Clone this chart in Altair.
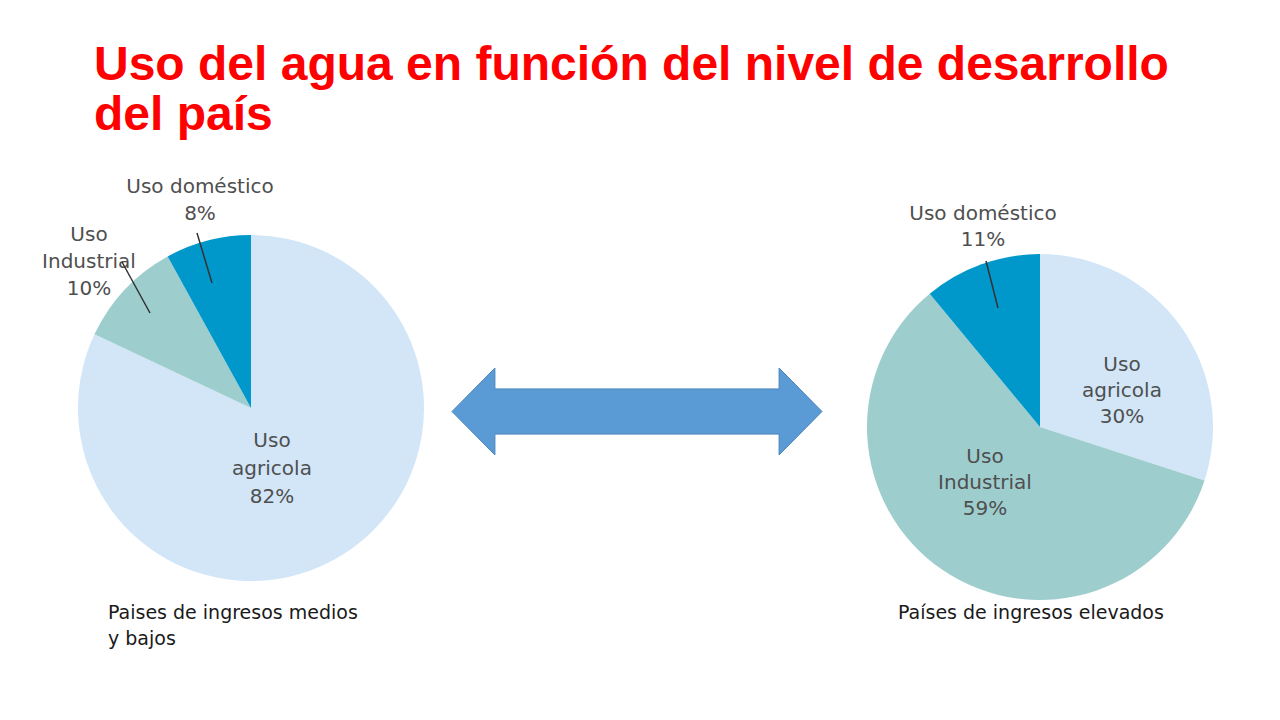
"""Uso del agua segun el nivel de desarrollo del pais: dos tartas y una flecha."""

import altair as alt
import pandas as pd

# ---------------------------------------------------------------------------
# Datos
# ---------------------------------------------------------------------------

TITULO = ["Uso del agua en función del nivel de desarrollo", "del país"]

CATEGORIAS = ["agricola", "Industrial", "doméstico"]
INGRESOS_BAJOS = [82, 10, 8]
INGRESOS_ALTOS = [30, 59, 11]

PIE_BAJOS = ["Paises de ingresos medios", "y bajos"]
PIE_ALTOS = ["Países de ingresos elevados"]

COLORES = ["#D2E6F8", "#9ECDCD", "#0097CB"]

# ---------------------------------------------------------------------------
# Estilo
# ---------------------------------------------------------------------------

FUENTE_TITULO = "Liberation Sans"
FUENTE = "DejaVu Sans"
GRIS = "#4f4f4f"
RADIO = 173

# flecha doble en un cuadrado unidad [-1, 1]
FLECHA = (
    "M -1 0 L -0.768 -0.235 L -0.768 -0.122 L 0.768 -0.122 L 0.768 -0.235 "
    "L 1 0 L 0.768 0.235 L 0.768 0.122 L -0.768 0.122 L -0.768 0.235 Z"
)


def etiqueta(nombre, pct):
    if nombre == "doméstico":
        return [f"Uso {nombre}", f"{pct}%"]
    return ["Uso", nombre, f"{pct}%"]


def texto(lineas, x, y, size=20, color=GRIS, align="center", lh=27,
          font=FUENTE, weight="normal"):
    df = pd.DataFrame({"texto": ["\n".join(lineas)]})
    return (
        alt.Chart(df)
        .mark_text(
            align=align, baseline="alphabetic", lineBreak="\n", lineHeight=lh,
            fontSize=size, font=font, fontWeight=weight, color=color,
        )
        .encode(x=alt.value(x), y=alt.value(y), text="texto:N")
    )


def tarta(valores, cx, cy):
    df = pd.DataFrame({"uso": CATEGORIAS, "pct": valores, "orden": range(len(valores))})
    return (
        alt.Chart(df)
        .mark_arc(outerRadius=RADIO)
        .encode(
            theta=alt.Theta("pct:Q", stack=True),
            color=alt.Color("uso:N", scale=alt.Scale(domain=CATEGORIAS, range=COLORES),
                            legend=None),
            order=alt.Order("orden:Q"),
            x=alt.value(cx),
            y=alt.value(cy),
        )
    )


def guia(nombre, x, y, x2, y2):
    return (
        alt.Chart(pd.DataFrame({"uso": [nombre]}))
        .mark_rule(color="#333333", strokeWidth=1.5)
        .encode(x=alt.value(x), y=alt.value(y), x2=alt.value(x2), y2=alt.value(y2))
    )


bajos = dict(zip(CATEGORIAS, INGRESOS_BAJOS))
altos = dict(zip(CATEGORIAS, INGRESOS_ALTOS))

flecha = (
    alt.Chart(pd.DataFrame({"f": ["flecha"]}))
    .mark_point(shape=FLECHA, filled=True, fill="#5B9BD5", stroke="#4A84BD",
                strokeWidth=1, opacity=1, size=370 * 370)
    .encode(x=alt.value(629), y=alt.value(403.5))
)

capas = [
    texto(TITULO, 86, 72, size=48, color="#FF0000", align="left", lh=50,
          font=FUENTE_TITULO, weight="bold"),
    tarta(INGRESOS_BAJOS, 243, 400),
    tarta(INGRESOS_ALTOS, 1032, 419),
    flecha,
    # tarta izquierda
    texto(etiqueta("doméstico", bajos["doméstico"]), 192, 185, lh=27),
    texto(etiqueta("Industrial", bajos["Industrial"]), 81, 233, lh=27),
    texto(etiqueta("agricola", bajos["agricola"]), 264, 439, lh=28),
    guia("doméstico", 189, 225, 204, 275),
    guia("Industrial", 114, 254, 142, 305),
    texto(PIE_BAJOS, 100, 611, size=19, color="#1a1a1a", align="left", lh=26),
    # tarta derecha
    texto(etiqueta("doméstico", altos["doméstico"]), 975, 212, lh=26),
    texto(etiqueta("agricola", altos["agricola"]), 1114, 363, lh=26),
    texto(etiqueta("Industrial", altos["Industrial"]), 977, 455, lh=26),
    guia("doméstico", 978, 253, 990, 300),
    texto(PIE_ALTOS, 890, 611, size=19, color="#1a1a1a", align="left", lh=26),
]

chart = (
    alt.layer(*capas)
    .properties(width=1260, height=700, autosize="none", padding=0)
    .configure_view(strokeWidth=0)
)

chart.save("out.html", embed_options={"renderer": "svg", "actions": False})
